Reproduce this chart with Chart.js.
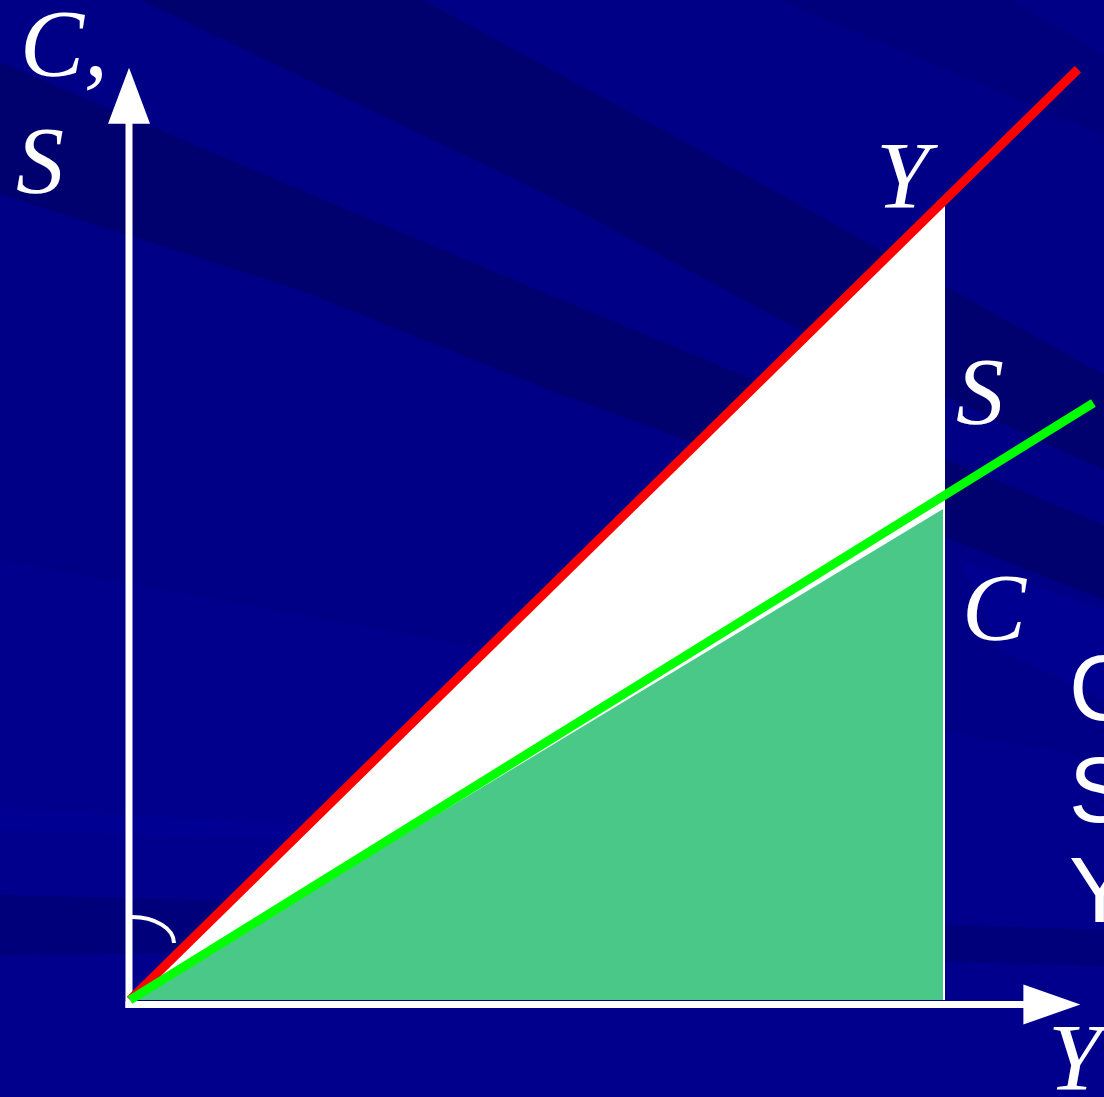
<!DOCTYPE html>
<html>
<head>
<meta charset="utf-8">
<script src="https://cdn.jsdelivr.net/npm/chart.js@4/dist/chart.umd.min.js"></script>
<style>
  html, body { margin: 0; padding: 0; background: #000086; overflow: hidden; }
  #c { display: block; }
  .pre { position: absolute; left: -9999px; top: 0; }
</style>
</head>
<body>
<span class="pre" style="font: italic 96px 'Liberation Serif'">CSY</span>
<span class="pre" style="font: 92px 'Liberation Sans'">CSY</span>
<canvas id="c" width="1104" height="1097"></canvas>
<script>
// ---- data (income Y on the horizontal axis, C and S on the vertical axis) ----
const incomeLine = [ { x: 0, y: 0 }, { x: 116.3, y: 114.2 } ];      // Y = C + S (red)
const savingLine = [ { x: 0, y: 0 }, { x: 118.2, y: 73.25 } ];      // S line (green)
const incomeArea = [ { x: 0, y: 0 }, { x: 100, y: 98.2 } ];         // white region (up to Y)
const consumptionArea = [ { x: 0, y: 0 }, { x: 99.75, y: 60.25 } ]; // green region (C)
const xRange = [ -15.95, 119.5 ];
const yRange = [ -11.9, 122.7 ];
const axisTips = { x: 116.6, y: 114.4 };
const labels = [ 'C,', 'S', 'Y', 'S', 'C', 'Y' ];
const edgeLabels = [ 'C', 'S', 'Y' ];

const SERIF = 'italic 96px "Liberation Serif", "Times New Roman", serif';
const SANS = '92px "Liberation Sans", Arial, sans-serif';

// ---- background plugin: dark blue with soft streaks ----
const bgPlugin = {
  id: 'bg',
  beforeDraw(chart) {
    const ctx = chart.ctx;
    const W = chart.width, H = chart.height;
    ctx.save();
    ctx.fillStyle = '#000086';
    ctx.fillRect(0, 0, W, H);
    const band = (pts, col) => {
      ctx.beginPath();
      ctx.moveTo(pts[0][0], pts[0][1]);
      for (let i = 1; i < pts.length; i++) ctx.lineTo(pts[i][0], pts[i][1]);
      ctx.closePath();
      ctx.fillStyle = col;
      ctx.fill();
    };
    band([[0, 560], [1104, 760], [1104, 1097], [0, 1097]], '#00008c');
    band([[780, 0], [1010, 0], [1104, 55], [1104, 135]], '#00007c');
    band([[141, 0], [423, 0], [552, 70], [800, 205], [1104, 375], [1104, 470], [800, 330], [552, 197]], '#00006e');
    band([[0, 62], [300, 190], [552, 296], [850, 420], [1104, 525], [1104, 600], [850, 500], [552, 391], [300, 290], [0, 194]], '#00006e');
    band([[0, 808], [400, 830], [700, 860], [700, 868], [400, 842], [0, 830]], '#000092');
    band([[0, 895], [400, 905], [800, 920], [1104, 930], [1104, 966], [800, 958], [400, 950], [0, 955]], '#00007a');
    band([[960, 560], [1104, 610], [1104, 700], [1000, 650]], '#000090');
    ctx.restore();
  }
};

// ---- axes, arrows and angle arc (drawn before the datasets) ----
const axesPlugin = {
  id: 'axes',
  beforeDatasetsDraw(chart) {
    const ctx = chart.ctx;
    const xs = chart.scales.x, ys = chart.scales.y;
    const ox = xs.getPixelForValue(0), oy = ys.getPixelForValue(0);
    const tx = xs.getPixelForValue(axisTips.x), ty = ys.getPixelForValue(axisTips.y);
    ctx.save();
    ctx.strokeStyle = '#ffffff';
    ctx.fillStyle = '#ffffff';
    ctx.lineWidth = 7;
    ctx.lineCap = 'butt';
    ctx.beginPath();
    ctx.moveTo(ox - 1, oy + 8);
    ctx.lineTo(ox - 1, ty + 50);
    ctx.stroke();
    ctx.beginPath();
    ctx.moveTo(ox - 1, ty);
    ctx.lineTo(ox - 22, ty + 56);
    ctx.lineTo(ox + 20, ty + 56);
    ctx.closePath();
    ctx.fill();
    ctx.beginPath();
    ctx.moveTo(ox - 4.5, oy + 4.5);
    ctx.lineTo(tx - 50, oy + 4.5);
    ctx.stroke();
    ctx.beginPath();
    ctx.moveTo(tx, oy + 4.5);
    ctx.lineTo(tx - 57, oy - 15.5);
    ctx.lineTo(tx - 57, oy + 24.5);
    ctx.closePath();
    ctx.fill();
    // angle arc near the origin
    ctx.lineWidth = 4;
    ctx.beginPath();
    ctx.ellipse(ox + 2, oy - 57, 42, 26, 0, -Math.PI / 2, 0, false);
    ctx.stroke();
    ctx.restore();
  }
};

// ---- labels (drawn after the datasets) ----
const textPlugin = {
  id: 'texts',
  afterDatasetsDraw(chart) {
    const ctx = chart.ctx;
    ctx.save();
    ctx.fillStyle = '#ffffff';
    ctx.textBaseline = 'alphabetic';
    ctx.textAlign = 'left';
    ctx.font = SERIF;
    const pos = [ [20, 76], [16, 193], [876, 208], [956, 424], [962, 640], [1048, 1090] ];
    labels.forEach((t, i) => ctx.fillText(t, pos[i][0], pos[i][1]));
    ctx.font = SANS;
    const epos = [ [1069, 720], [1069, 822], [1069, 922] ];
    edgeLabels.forEach((t, i) => ctx.fillText(t, epos[i][0], epos[i][1]));
    ctx.restore();
  }
};

function build() {
  new Chart(document.getElementById('c'), {
    type: 'scatter',
    data: {
      datasets: [
        { label: 'Y area', data: incomeArea, showLine: true, fill: 'origin',
          backgroundColor: '#ffffff', borderWidth: 0, pointRadius: 0, order: 4 },
        { label: 'C area', data: consumptionArea, showLine: true, fill: 'origin',
          backgroundColor: '#4ac888', borderWidth: 0, pointRadius: 0, order: 3 },
        { label: 'Y = C + S', data: incomeLine, showLine: true, fill: false,
          borderColor: '#ff0000', borderWidth: 9, borderCapStyle: 'butt', pointRadius: 0, order: 2 },
        { label: 'S', data: savingLine, showLine: true, fill: false,
          borderColor: '#00ff00', borderWidth: 9, borderCapStyle: 'butt', pointRadius: 0, order: 1 }
      ]
    },
    options: {
      responsive: false,
      animation: false,
      events: [],
      layout: { padding: 0 },
      scales: {
        x: { type: 'linear', min: xRange[0], max: xRange[1], display: false },
        y: { type: 'linear', min: yRange[0], max: yRange[1], display: false }
      },
      plugins: { legend: { display: false }, tooltip: { enabled: false } }
    },
    plugins: [bgPlugin, axesPlugin, textPlugin]
  });
}

Promise.all([document.fonts.load(SERIF), document.fonts.load(SANS)])
  .then(build, build);
</script>
</body>
</html>
